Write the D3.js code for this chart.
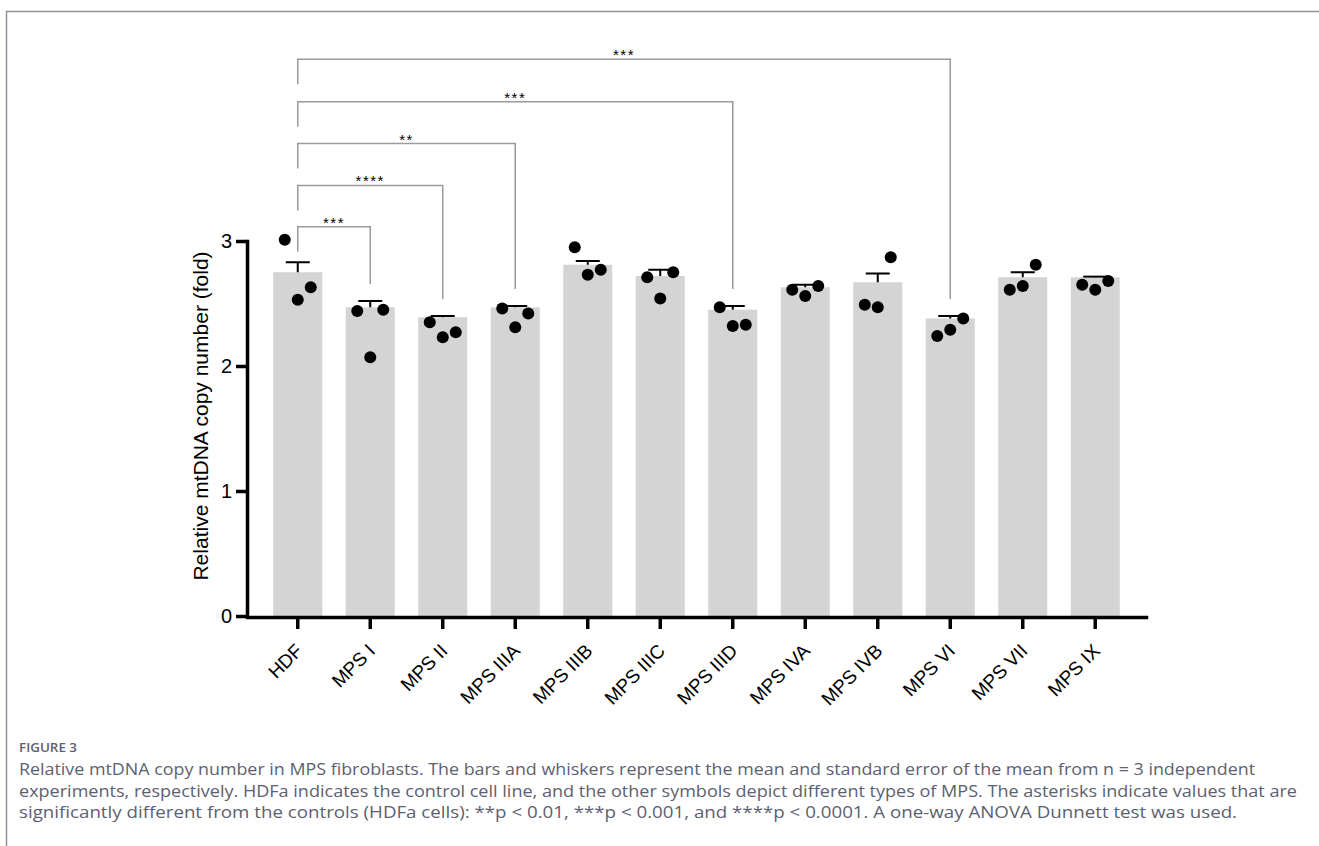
<!DOCTYPE html>
<html>

<head>
  <meta charset="utf8">
  <script src="https://d3js.org/d3.v7.min.js"></script>
  <style>
    body {
      margin: 0;
      background: #fff;
    }

    .axis path,
    .axis line {
      stroke: #000;
      stroke-width: 3.5;
    }

    .axis text {
      fill: #000;
      font-family: "Liberation Sans", Arial, sans-serif;
    }

    .caption {
      font-family: "Open Sans", sans-serif;
      fill: #5d6070;
    }
  </style>
</head>

<body>
  <svg id="chart" width="1319" height="846"></svg>

  <script>
    var groups = ["HDF", "MPS I", "MPS II", "MPS IIIA", "MPS IIIB", "MPS IIIC", "MPS IIID", "MPS IVA", "MPS IVB", "MPS VI", "MPS VII", "MPS IX"];
    var means = [2.75, 2.47, 2.39, 2.47, 2.81, 2.72, 2.45, 2.63, 2.67, 2.38, 2.71, 2.71];
    var sems = [0.08, 0.05, 0.01, 0.01, 0.03, 0.05, 0.03, 0.02, 0.07, 0.02, 0.04, 0.005];
    var points = [
      [3.01, 2.53, 2.63],
      [2.44, 2.07, 2.45],
      [2.35, 2.23, 2.27],
      [2.46, 2.31, 2.42],
      [2.95, 2.73, 2.77],
      [2.71, 2.54, 2.75],
      [2.47, 2.32, 2.33],
      [2.61, 2.56, 2.64],
      [2.49, 2.47, 2.87],
      [2.24, 2.29, 2.38],
      [2.61, 2.64, 2.81],
      [2.65, 2.61, 2.68]
    ];
    var yTicks = [0, 1, 2, 3];

    // significance brackets, all against HDF
    var compareTo = ["MPS I", "MPS II", "MPS IIIA", "MPS IIID", "MPS VI"];
    var stars = ["***", "****", "**", "***", "***"];
    var bracketLevels = [3.115, 3.445, 3.78, 4.115, 4.455];

    var captionTitle = "FIGURE 3";
    var captionLines = [
      "Relative mtDNA copy number in MPS fibroblasts. The bars and whiskers represent the mean and standard error of the mean from n = 3 independent",
      "experiments, respectively. HDFa indicates the control cell line, and the other symbols depict different types of MPS. The asterisks indicate values that are",
      "significantly different from the controls (HDFa cells): **p < 0.01, ***p < 0.001, and ****p < 0.0001. A one-way ANOVA Dunnett test was used."
    ];
    var captionWidths = [1236, 1278, 1218];

    var chart = d3.select('#chart');

    // page frame
    chart.append('path')
      .attr('d', 'M6.5,846 V11.5 H1319')
      .attr('fill', 'none')
      .attr('stroke', '#8e8f98')
      .attr('stroke-width', 1.5);

    var x = d3.scaleBand()
      .domain(groups)
      .range([247, 1146])
      .paddingInner(0.324)
      .paddingOuter(0.362);

    var y = d3.scaleLinear()
      .domain([0, 3])
      .range([616, 241]);

    var data = groups.map((g, i) => ({ group: g, mean: means[i], sem: sems[i], pts: points[i] }));

    // bars
    chart.selectAll('.bar')
      .data(data)
      .enter()
      .append('rect')
      .attr('class', 'bar')
      .attr('x', (d) => x(d.group))
      .attr('y', (d) => y(d.mean))
      .attr('width', x.bandwidth())
      .attr('height', (d) => y(0) - y(d.mean))
      .attr('fill', '#d4d4d4');

    // error bars (upper whisker only)
    var err = chart.selectAll('.err')
      .data(data)
      .enter()
      .append('g')
      .attr('class', 'err')
      .attr('stroke', '#000')
      .attr('stroke-width', 2);

    err.append('line')
      .attr('x1', (d) => x(d.group) + x.bandwidth() / 2)
      .attr('x2', (d) => x(d.group) + x.bandwidth() / 2)
      .attr('y1', (d) => y(d.mean))
      .attr('y2', (d) => y(d.mean + d.sem));

    err.append('line')
      .attr('x1', (d) => x(d.group) + x.bandwidth() / 2 - 12)
      .attr('x2', (d) => x(d.group) + x.bandwidth() / 2 + 12)
      .attr('y1', (d) => y(d.mean + d.sem))
      .attr('y2', (d) => y(d.mean + d.sem));

    // individual points
    var jitter = d3.scalePoint().domain([0, 1, 2]).range([-13, 13]);
    var dots = [];
    data.forEach((d) => d.pts.forEach((v, j) => dots.push({ group: d.group, value: v, j: j })));

    chart.selectAll('.dot')
      .data(dots)
      .enter()
      .append('circle')
      .attr('class', 'dot')
      .attr('cx', (d) => x(d.group) + x.bandwidth() / 2 + jitter(d.j))
      .attr('cy', (d) => y(d.value))
      .attr('r', 6)
      .attr('fill', '#000');

    // axes
    chart.append('g')
      .attr('class', 'axis y-axis')
      .attr('transform', 'translate(247, 0)')
      .call(d3.axisLeft(y).tickValues(yTicks).tickFormat(d3.format('d')).tickSize(11).tickSizeOuter(0).tickPadding(4))
      .call((g) => g.selectAll('text').attr('font-size', 20))
      .call((g) => g.select('.domain').attr('stroke-linecap', 'square'));

    chart.append('g')
      .attr('class', 'axis x-axis')
      .attr('transform', 'translate(0, 617)')
      .call(d3.axisBottom(x).tickSize(12).tickSizeOuter(0))
      .call((g) => g.select('.domain').attr('stroke-linecap', 'square'))
      .call((g) => g.selectAll('text')
        .attr('font-size', 19)
        .attr('text-anchor', 'end')
        .attr('y', 0)
        .attr('dy', 0)
        .attr('transform', 'translate(6, 35) rotate(-45)'));

    chart.append('text')
      .attr('transform', 'translate(208, ' + y(1.6) + ') rotate(-90)')
      .attr('text-anchor', 'middle')
      .attr('font-family', '"Liberation Sans", Arial, sans-serif')
      .attr('font-size', 21)
      .attr('fill', '#000')
      .text('Relative mtDNA copy number (fold)');

    // brackets
    var cx = (g) => x(g) + x.bandwidth() / 2;
    var brackets = compareTo.map((g, i) => {
      var d = data[groups.indexOf(g)];
      var top = Math.max(d3.max(d.pts), d.mean + d.sem);
      return { target: g, label: stars[i], ly: y(bracketLevels[i]), end: y(top) - 17 };
    });

    var br = chart.selectAll('.bracket')
      .data(brackets)
      .enter()
      .append('g')
      .attr('class', 'bracket');

    br.append('path')
      .attr('d', (d) => 'M' + cx('HDF') + ',' + (d.ly + 25) + 'V' + d.ly + 'H' + cx(d.target) + 'V' + d.end)
      .attr('fill', 'none')
      .attr('stroke', '#9a9a9a')
      .attr('stroke-width', 1.5);

    br.append('text')
      .attr('x', (d) => (cx('HDF') + cx(d.target)) / 2)
      .attr('y', (d) => d.ly + 1)
      .attr('text-anchor', 'middle')
      .attr('font-family', '"Liberation Sans", Arial, sans-serif')
      .attr('font-size', 15)
      .attr('letter-spacing', 1.5)
      .attr('fill', '#000')
      .text((d) => d.label);

    // caption
    chart.append('text')
      .attr('class', 'caption')
      .attr('x', 19)
      .attr('y', 752)
      .attr('font-size', 12)
      .attr('font-weight', 600)
      .attr('textLength', 58)
      .attr('lengthAdjust', 'spacingAndGlyphs')
      .text(captionTitle);

    chart.selectAll('.cap-line')
      .data(captionLines)
      .enter()
      .append('text')
      .attr('class', 'caption cap-line')
      .attr('x', 19)
      .attr('y', (d, i) => 775 + i * 21.6)
      .attr('font-size', 16)
      .attr('textLength', (d, i) => captionWidths[i])
      .attr('lengthAdjust', 'spacingAndGlyphs')
      .text((d) => d);
  </script>
</body>

</html>
